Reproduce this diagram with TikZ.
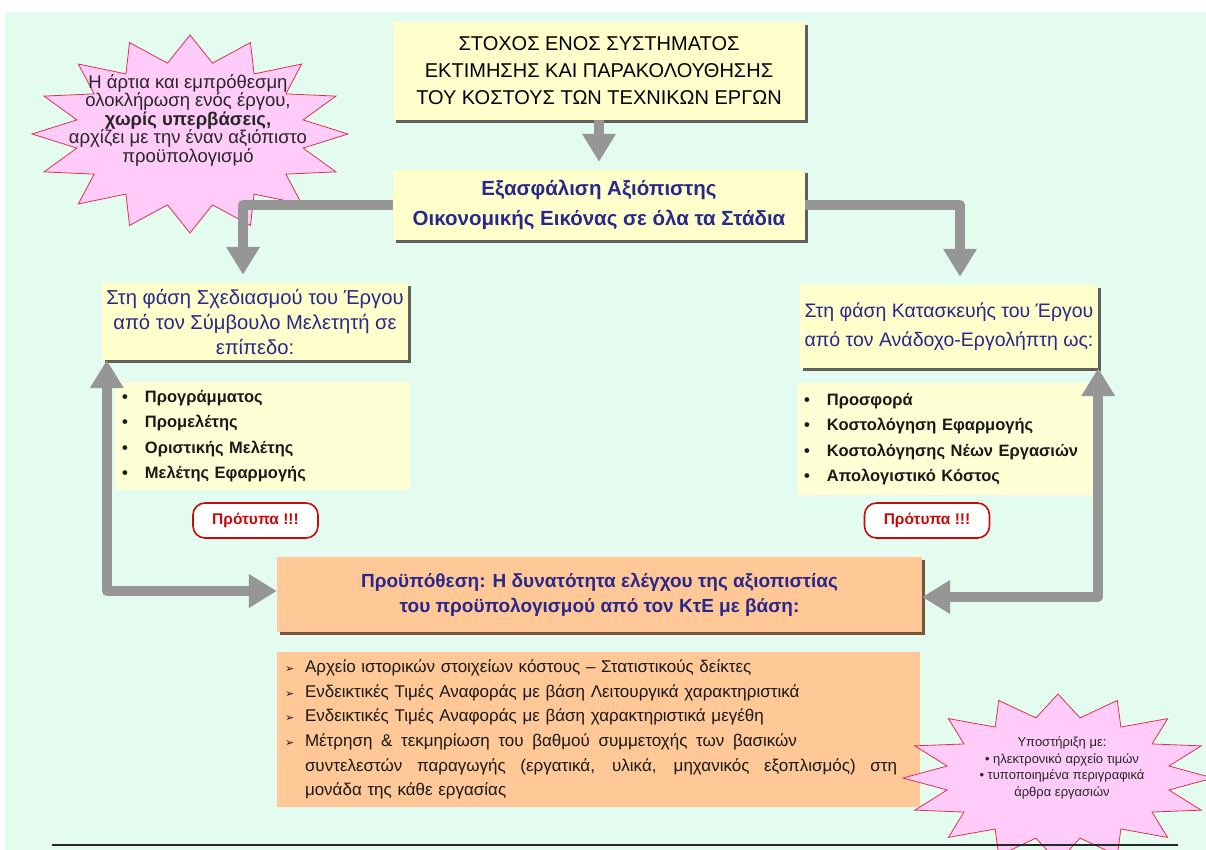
\documentclass[tikz,border=0pt]{standalone}
\usepackage{fontspec}
\setmainfont{Liberation Sans}
\newfontfamily\arrowfont{DejaVu Sans}
\usetikzlibrary{arrows.meta,shadows}

\definecolor{mint}{RGB}{228,252,240}
\definecolor{boxyellow}{RGB}{255,255,204}
\definecolor{listyellow}{RGB}{255,255,214}
\definecolor{boxorange}{RGB}{255,200,150}
\definecolor{pipegray}{RGB}{150,150,150}
\definecolor{shadowgray}{RGB}{95,95,95}
\definecolor{shadowbrown}{RGB}{120,85,60}
\definecolor{navy}{RGB}{40,40,140}
\definecolor{starpink}{RGB}{255,204,250}
\definecolor{starred}{RGB}{220,50,80}
\definecolor{stdred}{RGB}{200,10,10}

\tikzset{
    >={Triangle[width=32pt,length=28pt]},
    pipe/.style={draw=pipegray, line width=10pt, line join=round},
    yellowbox/.style={fill=boxyellow, inner sep=0pt, align=center,
        drop shadow={shadow xshift=3pt, shadow yshift=-3pt, fill=shadowgray, opacity=1}},
    listbox/.style={fill=listyellow, inner xsep=7pt, inner ysep=0pt, align=left,
        font=\fontsize{16.5}{25.5}\selectfont\bfseries, text=black!90},
    orangebox/.style={fill=boxorange, inner sep=0pt, align=center,
        drop shadow={shadow xshift=3pt, shadow yshift=-3pt, fill=shadowbrown, opacity=1}},
    orangelist/.style={fill=boxorange, inner xsep=8pt, inner ysep=0pt, align=left,
        font=\fontsize{17}{24.6}\selectfont, text=black!90},
    stdbox/.style={draw=stdred, line width=1.6pt, fill=white, rounded corners=12pt,
        minimum width=125pt, minimum height=35pt, text=stdred,
        font=\fontsize{15.5}{15.5}\selectfont\bfseries},
    burst/.style={fill=starpink, draw=starred, line width=0.8pt},
    startext/.style={align=center, text=black!85}
}

\begin{document}
\begin{tikzpicture}[x=1pt,y=-1pt]
        \useasboundingbox (0,0) rectangle (1206,850);
        \fill[white] (0,0) rectangle (1206,850);
        \fill[mint] (5,12) rectangle (1206,850);

        % αστέρι πάνω
        \draw[burst] (348,134) \foreach \k in {1,...,31} {
            -- ({190+158*(1-0.27*mod(\k,2))*cos(11.25*\k)},{134+99*(1-0.27*mod(\k,2))*sin(11.25*\k)})
        } -- cycle;
        \node[startext, font=\fontsize{18.5}{18.5}\selectfont] (starnote) at (188,120)
            {Η άρτια και εμπρόθεσμη\\ ολοκλήρωση ενός έργου,\\ \textbf{χωρίς υπερβάσεις,}\\ αρχίζει με την έναν αξιόπιστο\\ προϋπολογισμό};

        % στόχος
        \node[yellowbox, minimum width=412pt, minimum height=98pt,
            font=\fontsize{20}{27}\selectfont] (goal) at (599,71)
            {ΣΤΟΧΟΣ ΕΝΟΣ ΣΥΣΤΗΜΑΤΟΣ\\ ΕΚΤΙΜΗΣΗΣ ΚΑΙ ΠΑΡΑΚΟΛΟΥΘΗΣΗΣ\\ ΤΟΥ ΚΟΣΤΟΥΣ ΤΩΝ ΤΕΧΝΙΚΩΝ ΕΡΓΩΝ};
        % εξασφάλιση
        \node[yellowbox, minimum width=412pt, minimum height=70pt, text=navy,
            font=\fontsize{20.5}{30}\selectfont\bfseries] (secure) at (599,205)
            {Εξασφάλιση Αξιόπιστης\\ Οικονομικής Εικόνας σε όλα τα Στάδια};

        % σχεδιασμός
        \node[yellowbox, minimum width=306pt, minimum height=77pt, text=navy,
            font=\fontsize{20.2}{25}\selectfont] (design) at (255,321.5)
            {Στη φάση Σχεδιασμού του Έργου\\ από τον Σύμβουλο Μελετητή σε\\ επίπεδο:};
        \node[listbox, text width=281pt, minimum height=108pt] (designlist) at (262.5,436)
            {\makebox[23pt][l]{\textbullet}Προγράμματος\\
             \makebox[23pt][l]{\textbullet}Προμελέτης\\
             \makebox[23pt][l]{\textbullet}Οριστικής Μελέτης\\
             \makebox[23pt][l]{\textbullet}Μελέτης Εφαρμογής};
        \node[stdbox] (stdleft) at (255.5,520.5) {Πρότυπα !!!};

        % κατασκευή
        \node[yellowbox, minimum width=298pt, minimum height=83pt, text=navy,
            font=\fontsize{19.5}{29}\selectfont] (build) at (949,326.5)
            {Στη φάση Κατασκευής του Έργου\\ από τον Ανάδοχο-Εργολήπτη ως:};
        \node[listbox, text width=284pt, minimum height=112pt] (buildlist) at (946,439)
            {\makebox[23pt][l]{\textbullet}Προσφορά\\
             \makebox[23pt][l]{\textbullet}Κοστολόγηση Εφαρμογής\\
             \makebox[23pt][l]{\textbullet}Κοστολόγησης Νέων Εργασιών\\
             \makebox[23pt][l]{\textbullet}Απολογιστικό Κόστος};
        \node[stdbox] (stdright) at (927,520.5) {Πρότυπα !!!};

        % προϋπόθεση
        \node[orangebox, minimum width=645pt, minimum height=75pt, text=navy,
            font=\fontsize{19}{25}\selectfont\bfseries] (premise) at (599.5,594.5)
            {Προϋπόθεση: Η δυνατότητα ελέγχου της αξιοπιστίας\\ του προϋπολογισμού από τον ΚτΕ με βάση:};
        \node[orangelist, text width=627pt, minimum height=155pt] (premlist) at (598.5,729.5)
            {\makebox[20pt][l]{\arrowfont\fontsize{11}{11}\selectfont ➢}Αρχείο ιστορικών στοιχείων κόστους – Στατιστικούς δείκτες\\
             \makebox[20pt][l]{\arrowfont\fontsize{11}{11}\selectfont ➢}Ενδεικτικές Τιμές Αναφοράς με βάση Λειτουργικά χαρακτηριστικά\\
             \makebox[20pt][l]{\arrowfont\fontsize{11}{11}\selectfont ➢}Ενδεικτικές Τιμές Αναφοράς με βάση χαρακτηριστικά μεγέθη\\
             \makebox[20pt][l]{\arrowfont\fontsize{11}{11}\selectfont ➢}\makebox[492pt][s]{\spaceskip=0.28em plus 3em Μέτρηση \& τεκμηρίωση του βαθμού συμμετοχής των βασικών}\\
             \hspace*{20pt}\makebox[592pt][s]{\spaceskip=0.28em plus 3em συντελεστών παραγωγής (εργατικά, υλικά, μηχανικός εξοπλισμός) στη}\\
             \hspace*{20pt}μονάδα της κάθε εργασίας};

        % βέλη
        \draw[pipe, ->, shorten >=8pt] (goal) -- (secure);
        \draw[pipe, ->, shorten >=8pt] (secure.west) -| ([xshift=-12pt]design.north);
        \draw[pipe, ->, shorten >=8pt] (secure.east) -| ([xshift=11pt]build.north);
        \draw[pipe, <->] ([yshift=3.5pt]premise.west) -| ([xshift=5pt]design.south west);
        \draw[pipe, <->] ([yshift=-2.5pt]premise.east) -| (build.south east);

        % αστέρι κάτω
        \draw[burst] (1213,778) \foreach \k in {1,...,31} {
            -- ({1058+155*(1-0.27*mod(\k,2))*cos(11.25*\k)},{778+84*(1-0.27*mod(\k,2))*sin(11.25*\k)})
        } -- cycle;
        \node[startext, font=\fontsize{13}{16.5}\selectfont] (supportnote) at (1062,768)
            {Υποστήριξη με:\\ \textbullet\ ηλεκτρονικό αρχείο τιμών\\ \textbullet\ τυποποιημένα περιγραφικά\\ άρθρα εργασιών};

        % γραμμή
        \coordinate (rulel) at (52,845);
        \coordinate (ruler) at (1178,845);
        \draw[line width=1.6pt, black!85] (rulel) -- (ruler);
    \end{tikzpicture}
\end{document}
